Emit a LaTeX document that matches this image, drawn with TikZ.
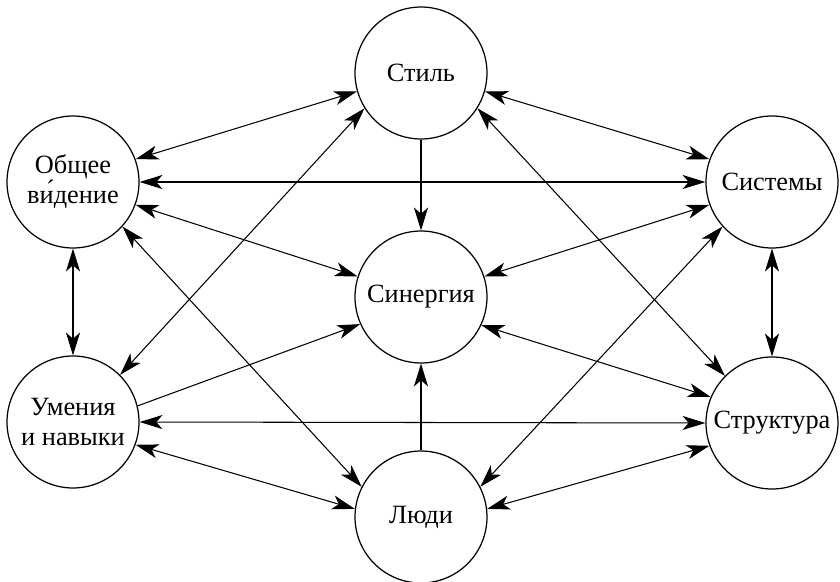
\documentclass[tikz,border=0pt]{standalone}
\usepackage{fontspec}
\setmainfont{Liberation Serif}
\usetikzlibrary{arrows.meta}
\tikzset{
	zone/.style={circle,draw,line width=0.7pt,minimum size=2.64cm,inner sep=0pt,align=center,font=\fontsize{15}{17}\selectfont},
	link/.style={line width=0.6pt},
	>={Stealth[length=13pt,width=8pt,inset=3.5pt]}
}
\begin{document}
\begin{tikzpicture}[x=0.02cm,y=-0.02cm]
	\useasboundingbox (0,0) rectangle (840,582);
		\node[zone] at (421,73)(st){Стиль};
		\node[zone] at (73,182)(ov){Общее\\ви́дение};
		\node[zone] at (772,182)(sy){Системы};
		\node[zone] at (421,297)(sn){Синергия};
		\node[zone] at (73,422)(um){Умения\\и навыки};
		\node[zone] at (772,423)(sr){Структура};
		\node[zone] at (421,517)(ld){Люди};
		\path[link,<->]
		(ov.20) edge (st.196)
		(ov.0) edge (sy.180)
		(ov.340) edge (sn.162)
		(ov.318) edge (ld.153)
		(um.45) edge (st.212)
		(ov.270) edge (um.90)
		(um.0) edge (sr.180)
		(um.340) edge (ld.173)
		(st.344) edge (sy.160)
		(st.328) edge (sr.135)
		(sn.18) edge (sy.200)
		(ld.27) edge (sy.222)
		(sy.270) edge (sr.90)
		(sn.335) edge (sr.157)
		(ld.7) edge (sr.200);
		\path[link,->]
		(um.14) edge (sn.204)
		(st.270) edge (sn.90)
		(ld.90) edge (sn.270);
\end{tikzpicture}
\end{document}
